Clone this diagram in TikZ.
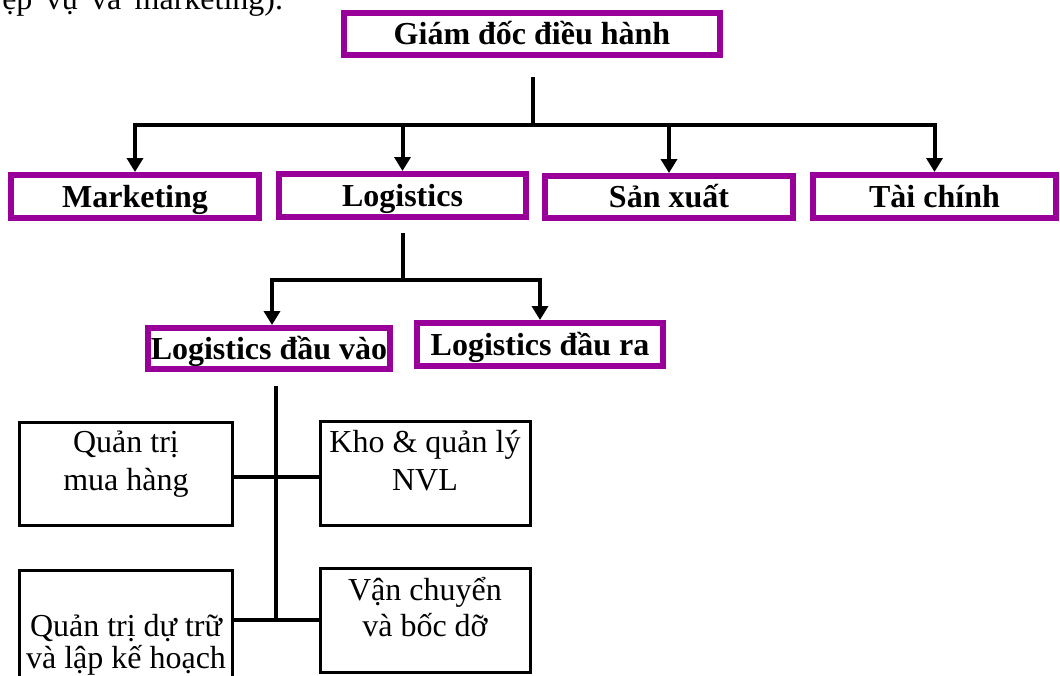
\documentclass[tikz,border=0pt]{standalone}
\usepackage{fontspec}
\setmainfont{Liberation Serif}
\usetikzlibrary{arrows.meta}
\definecolor{orgpurple}{RGB}{153,0,153}
\begin{document}
\begin{tikzpicture}[x=0.75pt,y=-0.75pt,
  font=\fontsize{24pt}{28.5pt}\selectfont,
  unitbox/.style={draw=orgpurple, line width=4.5pt, inner sep=0pt,
    text height=17pt, text depth=1.2pt,
    font=\fontsize{24pt}{28.5pt}\selectfont\bfseries},
  taskbox/.style={draw=black, line width=2.25pt, inner sep=0pt},
  tasktext/.style={align=center, inner sep=0pt, anchor=base},
  link/.style={draw=black, line width=3pt},
  arr/.style={link, -{Triangle[length=10.5pt,width=12pt]}}]
\useasboundingbox (0,0) rectangle (1060,675);

% end of the justified paragraph above the chart
\node[anchor=base west, inner sep=0pt] (prevline) at (2,9)
  {ệp\hspace{10pt}vụ\hspace{10pt}và\hspace{10pt}marketing).};

% management level
\node[unitbox, minimum width=282pt, minimum height=31.5pt] (ceo) at (532,34) {Giám đốc điều hành};

% functional departments
\node[unitbox, minimum width=186pt,    minimum height=32.25pt] (mkt) at (135,196.5)   {Marketing};
\node[unitbox, minimum width=185.25pt, minimum height=32.25pt] (log) at (402.5,195.5) {Logistics};
\node[unitbox, minimum width=186pt,    minimum height=31.5pt]  (sx)  at (669,197)     {Sản xuất};
\node[unitbox, minimum width=182.25pt, minimum height=32.25pt] (tc)  at (934.5,196.5) {Tài chính};

% logistics sub-units
\node[unitbox, minimum width=181.5pt, minimum height=30.75pt] (ldv) at (269,348.5) {Logistics đầu vào};
\node[unitbox, minimum width=184.5pt, minimum height=32.25pt] (ldr) at (540,344.5) {Logistics đầu ra};

% inbound logistics activities
\node[taskbox, minimum width=159.75pt, minimum height=77.25pt] (qtmh) at (125.5,473.5) {};
\node[taskbox, minimum width=157.5pt,  minimum height=78pt]    (kho)  at (425,473)     {};
\node[taskbox, minimum width=159.75pt, minimum height=90pt]    (qtdt) at (125.5,630)   {};
\node[taskbox, minimum width=157.5pt,  minimum height=78pt]    (vc)   at (425,620)     {};

\node[tasktext] (qtmhtext) at (126,490) {Quản trị\\mua hàng};
\node[tasktext] (khotext)  at (425,490) {Kho \& quản lý\\NVL};
\node[tasktext, font=\fontsize{24pt}{27pt}\selectfont] (vctext) at (425,636) {Vận chuyển\\và bốc dỡ};
\node[tasktext, font=\fontsize{24pt}{24pt}\selectfont] (qtdttext) at (126,668) {Quản trị dự trữ\\và lập kế hoạch};

% connectors: director to departments
\coordinate (ceostem) at (533,77);
\coordinate (bus) at (533,125);
\draw[link] (ceostem) -- (bus);
\draw[arr] (bus) -| (mkt.north);
\draw[arr] (bus) -| (log.north);
\draw[arr] (bus) -| (sx.north);
\draw[arr] (bus) -| (tc.north);

% connectors: logistics to its sub-units
\coordinate (logstem) at (403,233);
\coordinate (logbus) at (403,280);
\draw[link] (logstem) -- (logbus);
\draw[arr] (logbus) -| ([xshift=2.25pt]ldv.north);
\draw[arr] (logbus) -| (ldr.north);

% connectors: inbound logistics activities
\coordinate (trunktop) at (276,388);
\coordinate (upperjoin) at (276,477);
\coordinate (lowerjoin) at (276,620);
\draw[link, line cap=rect] (trunktop) -- (lowerjoin);
\draw[link] (qtmh.east |- upperjoin) -- (kho.west |- upperjoin);
\draw[link] (qtdt.east |- lowerjoin) -- (vc.west |- lowerjoin);
\end{tikzpicture}
\end{document}
